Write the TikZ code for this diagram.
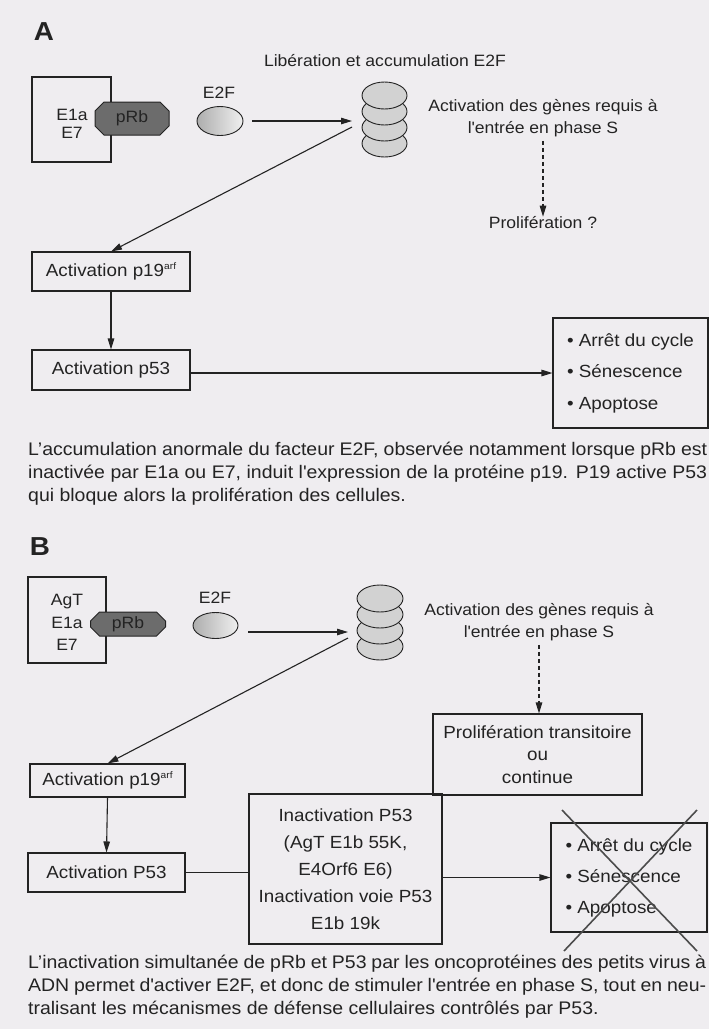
\documentclass[tikz,border=0pt]{standalone}
\usepackage{fontspec}
\setmainfont{Liberation Sans}[FakeStretch=1.07]
\usetikzlibrary{arrows.meta,shapes.geometric,shapes.misc,calc}
\definecolor{paper}{RGB}{239,237,240}
\definecolor{ink}{RGB}{35,35,35}
\definecolor{prbfill}{RGB}{108,108,108}
\definecolor{discfill}{RGB}{210,210,210}
\newcommand\lblsz{\fontsize{16.4}{22}\selectfont}
\newcommand\bxsz{\fontsize{17.6}{22.5}\selectfont}
\newcommand\cpsz{\fontsize{18.2}{24}\selectfont}
\newcommand\arfsup{\raisebox{0.42em}{\fontsize{9.5}{10}\selectfont arf}}
\begin{document}
\begin{tikzpicture}[x=1pt,y=-1pt,
  every node/.style={text=ink},
  ln/.style={draw=ink,line width=1.1pt},
  arr/.style={ln,-{Triangle[length=11pt,width=6.5pt]}},
  dasharr/.style={arr,dash pattern=on 4pt off 3pt},
  box/.style={draw=ink,line width=1.1pt,rectangle,inner sep=0pt,align=center,font=\bxsz},
  smallbox/.style={box,font=\lblsz},
  lbl/.style={inner sep=0pt,align=center,font=\lblsz},
  disc/.style={ellipse,draw=ink,line width=0.9pt,fill=discfill,minimum width=45pt,minimum height=27pt,inner sep=0pt},
  factor/.style={ellipse,draw=ink,line width=0.9pt,left color=black!32,right color=black!6,inner sep=0pt},
  prb/.style={chamfered rectangle,chamfered rectangle xsep=5.5pt,draw=ink,line width=1pt,fill=prbfill,inner sep=0pt,font=\lblsz},
  panel/.style={font=\fontsize{26}{26}\selectfont\bfseries,inner sep=0pt},
  captext/.style={anchor=base west,inner sep=0pt,font=\cpsz},
  cross/.style={draw=black!70,line width=1.6pt}
]
\fill[paper] (0,0) rectangle (709,1029);
\useasboundingbox (0,0) rectangle (709,1029);

% ---------------- panel A ----------------
\node[panel] (panA) at (44,32) {A};
\node[lbl] (libA) at (385,61) {Libération et accumulation E2F};

\node[smallbox,minimum width=79pt,minimum height=85pt] (virA) at (71.5,119.5) {};
\node[lbl,align=center,font=\fontsize{16.4}{18}\selectfont] (virtxtA) at (72,124) {E1a\\E7};
\node[prb,minimum width=74pt,minimum height=33pt] (prbA) at (132,118.5) {pRb};
\node[lbl] (e2flA) at (219,93) {E2F};
\node[factor,minimum width=46pt,minimum height=29pt] (e2fA) at (220,121) {};

% stack of E2F, drawn bottom to top
\node[disc] (dA4) at (384.5,143.5) {};
\node[disc] (dA3) at (384.5,127.5) {};
\node[disc] (dA2) at (384.5,111.5) {};
\node[disc] (dA1) at (384.5,95.5) {};
\coordinate (hubA) at (352,127);

\node[lbl,font=\fontsize{16.4}{22}\selectfont] (genA) at (543,118) {Activation des gènes requis à\\l\textquotesingle entrée en phase S};
\node[lbl] (proA) at (543,223) {Prolifération ?};

\node[box,minimum width=158pt,minimum height=39pt] (p19A) at (111,271.5) {Activation p19\arfsup};
\node[box,minimum width=158pt,minimum height=40pt] (p53A) at (111,370) {Activation p53};
\node[box,minimum width=155pt,minimum height=110pt,align=left,font=\fontsize{17.6}{31.5}\selectfont] (outA) at (630.5,373)
  {• Arrêt du cycle\\• Sénescence\\• Apoptose};

\draw[arr,shorten <=9pt] (e2fA.east) -- (e2fA.east -| hubA);
\draw[arr] (hubA) -- (p19A.north);
\draw[dasharr] ([yshift=-4pt]genA.south) -- (genA.south |- proA.north);
\draw[arr] (p19A.south) -- (p53A.north);
\draw[arr] (p53A.east |- outA.west) -- (outA.west);

\node[captext] (capA1) at (28,455) {\makebox[679pt][s]{L’accumulation anormale du facteur E2F, observée notamment lorsque pRb est}};
\node[captext] (capA2) at (28,478) {\makebox[679pt][s]{inactivée par E1a ou E7, induit l\textquotesingle expression de la protéine p19. P19 active P53}};
\node[captext] (capA3) at (28,501) {qui bloque alors la prolifération des cellules.};

% ---------------- panel B ----------------
\node[panel] (panB) at (40,546.5) {B};

\node[smallbox,minimum width=78pt,minimum height=86pt] (virB) at (67,620) {};
\node[lbl,align=center,font=\fontsize{16.4}{22.5}\selectfont] (virtxtB) at (67,622.5) {AgT\\E1a\\E7};
\node[prb,minimum width=75pt,minimum height=24pt] (prbB) at (128,624) {pRb};
\node[lbl] (e2flB) at (215,598) {E2F};
\node[factor,minimum width=45pt,minimum height=26pt] (e2fB) at (215.5,625.5) {};

\node[disc,minimum width=46pt] (dB4) at (380,646.5) {};
\node[disc,minimum width=46pt] (dB3) at (380,630.5) {};
\node[disc,minimum width=46pt] (dB2) at (380,614.5) {};
\node[disc,minimum width=46pt] (dB1) at (380,598.5) {};
\coordinate (hubB) at (348,638);

\node[lbl,font=\fontsize{16.4}{22}\selectfont] (genB) at (539,622) {Activation des gènes requis à\\l\textquotesingle entrée en phase S};

\node[box,minimum width=209pt,minimum height=81pt] (proB) at (537.5,754.5) {Prolifération transitoire\\ou\\continue};
\node[box,minimum width=155pt,minimum height=33pt] (p19B) at (107.5,780.5) {Activation p19\arfsup};
\node[box,minimum width=157pt,minimum height=39pt] (p53B) at (106.5,872.5) {Activation P53};
\node[box,minimum width=193pt,minimum height=150pt,font=\fontsize{17.6}{27}\selectfont] (inaB) at (345.5,869)
  {Inactivation P53\\(AgT E1b 55K,\\E4Orf6 E6)\\Inactivation voie P53\\E1b 19k};
\node[box,minimum width=156pt,minimum height=109pt,align=left,font=\fontsize{17.6}{31}\selectfont] (outB) at (629,877.5)
  {• Arrêt du cycle\\• Sénescence\\• Apoptose};

\draw[arr,shorten <=10pt] ([yshift=-6.5pt]e2fB.east) -- ([yshift=-6.5pt]e2fB.east -| hubB);
\draw[arr] (hubB) -- (p19B.north);
\draw[dasharr] ([yshift=-4pt]genB.south) -- (genB.south |- proB.north);
\draw[arr] (p19B.south) -- (p53B.north);
\draw[ln] (p53B.east) -- (p53B.east -| inaB.west);
\draw[arr] (inaB.east |- outB.west) -- (outB.west);

% the crossed-out outcomes
\draw[cross] (562,810) -- (697,951);
\draw[cross] (697,810) -- (564,951);

\node[captext] (capB1) at (28,968) {\makebox[678pt][s]{L’inactivation simultanée de pRb et P53 par les oncoprotéines des petits virus à}};
\node[captext] (capB2) at (28,991) {\makebox[678pt][s]{ADN permet d\textquotesingle activer E2F, et donc de stimuler l\textquotesingle entrée en phase S, tout en neu-}};
\node[captext] (capB3) at (28,1014) {tralisant les mécanismes de défense cellulaires contrôlés par P53.};
\end{tikzpicture}
\end{document}
